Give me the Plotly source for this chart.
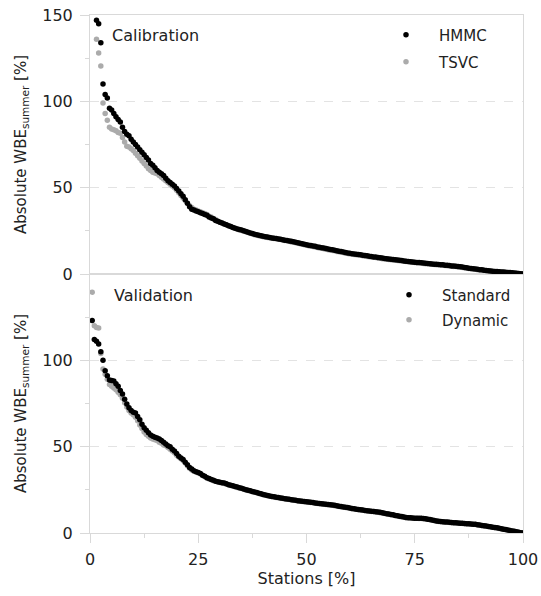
import plotly.graph_objects as go

# ---- data (absolute WBE summer, sorted descending; one value per station) ----
calib_hmmc = [
    165, 155, 147, 145, 134, 110, 104, 102, 96, 95,
    93, 91, 89.5, 88, 85, 82.5, 81, 80, 78, 76.5,
    75, 73.5, 72, 70.5, 69, 67.5, 66, 64, 63, 61.5,
    60, 59, 58, 57, 55.5, 54, 53, 52, 51, 49.5,
    48, 46.5, 45, 43, 41, 39, 37.5, 37, 36.5, 36,
    35.5, 35, 34.5, 34, 33, 32.5, 32, 31, 30.5, 30,
    29.5, 29, 28.5, 28, 27.5, 27, 26.5, 26, 25.8, 25.5,
    25, 24.6, 24.2, 23.8, 23.4, 23, 22.7, 22.4, 22.1, 21.8,
    21.6, 21.4, 21.1, 20.9, 20.7, 20.5, 20.3, 20.1, 19.9, 19.6,
    19.4, 19.1, 18.9, 18.7, 18.4, 18.1, 17.8, 17.5, 17.2, 17,
    16.7, 16.5, 16.2, 16, 15.7, 15.5, 15.2, 15, 14.7, 14.5,
    14.2, 14, 13.7, 13.5, 13.2, 13, 12.7, 12.5, 12.2, 12,
    11.8, 11.6, 11.5, 11.3, 11.1, 10.9, 10.7, 10.5, 10.3, 10.1,
    9.9, 9.8, 9.6, 9.4, 9.2, 9.0, 8.8, 8.7, 8.5, 8.4,
    8.2, 8.1, 7.9, 7.8, 7.6, 7.4, 7.3, 7.1, 7.0, 6.8,
    6.7, 6.6, 6.5, 6.3, 6.2, 6.1, 6.0, 5.8, 5.7, 5.6,
    5.5, 5.4, 5.3, 5.1, 5.0, 4.9, 4.7, 4.6, 4.5, 4.3,
    4.2, 4.0, 3.8, 3.6, 3.4, 3.2, 3.0, 2.9, 2.7, 2.5,
    2.4, 2.2, 2.0, 1.9, 1.8, 1.6, 1.5, 1.4, 1.3, 1.2,
    1.1, 1.0, 0.9, 0.8, 0.7, 0.6, 0.5, 0.3, 0.2, 0.0,
]
calib_tsvc = [
    160, 153, 136, 128, 120.5, 99, 93, 89, 85, 84,
    83.5, 83, 82, 81.5, 79, 76.5, 74, 73.5, 72.5, 71.5,
    70, 68.5, 67, 65.5, 64, 62.5, 61, 60, 59, 58.5,
    58, 57, 56, 55, 54, 53, 52, 51, 50, 48.5,
    47, 45.5, 44, 42.5, 41, 39.5, 38.5, 37.5, 37, 36.5,
    36, 35.5, 35, 34.5, 33.5, 33, 32, 31.5, 30.5, 30,
    29.5, 29, 28.5, 28, 27.5, 27, 26.5, 26, 25.5, 25.2,
    24.8, 24.4, 24, 23.6, 23.2, 22.8, 22.5, 22.2, 21.9, 21.6,
    21.4, 21.2, 21, 20.8, 20.6, 20.4, 20.2, 20, 19.7, 19.4,
    19.2, 18.9, 18.6, 18.4, 18.1, 17.8, 17.5, 17.2, 16.9, 16.6,
    16.4, 16.1, 15.9, 15.6, 15.4, 15.1, 14.9, 14.6, 14.4, 14.1,
    13.9, 13.6, 13.4, 13.1, 12.9, 12.6, 12.4, 12.1, 11.9, 11.7,
    11.5, 11.3, 11.2, 11, 10.8, 10.6, 10.4, 10.2, 10, 9.8,
    9.7, 9.5, 9.3, 9.1, 8.9, 8.8, 8.6, 8.4, 8.3, 8.1,
    8.0, 7.8, 7.7, 7.5, 7.4, 7.2, 7.1, 6.9, 6.8, 6.6,
    6.5, 6.4, 6.3, 6.1, 6.0, 5.9, 5.8, 5.6, 5.5, 5.4,
    5.3, 5.2, 5.1, 4.9, 4.8, 4.7, 4.5, 4.4, 4.3, 4.1,
    4.0, 3.8, 3.6, 3.4, 3.2, 3.0, 2.9, 2.7, 2.5, 2.4,
    2.2, 2.1, 1.9, 1.8, 1.7, 1.5, 1.4, 1.3, 1.2, 1.1,
    1.0, 0.9, 0.8, 0.7, 0.6, 0.5, 0.4, 0.3, 0.1, 0.0,
]
valid_standard = [
    123, 112, 111, 109.5, 105, 100, 94, 91, 88.6, 88.3,
    88, 86.5, 85, 82.5, 80.5, 77.5, 74.7, 72.5, 71, 70,
    69.5, 67.5, 65.6, 63, 61, 59.5, 58, 56.7, 56, 55.5,
    55, 54.5, 53.5, 52.5, 51.5, 50.5, 50, 48.5, 47.5, 46,
    44.5, 43.5, 42.5, 41, 39.5, 38, 37, 36, 35.5, 35,
    34.5, 33.5, 32.8, 32, 31.5, 31, 30.5, 30, 29.7, 29.4,
    29.1, 28.9, 28.5, 28, 27.6, 27.3, 26.9, 26.6, 26.2, 25.9,
    25.5, 25.1, 24.8, 24.4, 24.1, 23.7, 23.4, 23, 22.7, 22.3,
    22, 21.7, 21.5, 21.2, 21, 20.7, 20.5, 20.3, 20.1, 19.9,
    19.7, 19.5, 19.3, 19.1, 18.9, 18.7, 18.6, 18.4, 18.2, 18.1,
    17.9, 17.8, 17.6, 17.4, 17.3, 17.1, 16.9, 16.8, 16.7, 16.5,
    16.4, 16.2, 16, 15.8, 15.5, 15.3, 15.1, 14.9, 14.7, 14.5,
    14.2, 14, 13.8, 13.6, 13.4, 13.3, 13.1, 12.9, 12.8, 12.6,
    12.5, 12.3, 12.1, 12, 11.7, 11.5, 11.2, 11, 10.7, 10.5,
    10.2, 10, 9.7, 9.5, 9.2, 9, 8.9, 8.8, 8.7, 8.6,
    8.6, 8.5, 8.5, 8.4, 8.2, 8, 7.8, 7.5, 7.3, 7.0,
    6.8, 6.6, 6.5, 6.4, 6.3, 6.2, 6.1, 6, 5.9, 5.8,
    5.7, 5.6, 5.5, 5.4, 5.3, 5.2, 5.1, 5.0, 4.8, 4.6,
    4.4, 4.2, 4.0, 3.8, 3.6, 3.4, 3.2, 3.0, 2.7, 2.5,
    2.2, 2.0, 1.7, 1.5, 1.2, 1.0, 0.7, 0.5, 0.2, 0.0,
]
valid_dynamic = [
    139.5, 120, 119, 118.7, 104, 95, 92, 89, 86, 85,
    84, 83, 81.5, 80, 78, 75.5, 73, 71, 69.5, 68.5,
    67, 65, 62.5, 60.5, 58.5, 57, 56, 55, 54.5, 54,
    53.5, 52.5, 52, 51, 50.5, 49.5, 48.5, 47.5, 46.5, 45,
    44, 43, 42, 40.5, 39, 37.5, 36.5, 35.8, 35.3, 34.8,
    34.2, 33.3, 32.6, 31.9, 31.3, 30.8, 30.3, 29.9, 29.5, 29.2,
    28.9, 28.6, 28.3, 27.9, 27.5, 27.1, 26.8, 26.4, 26.1, 25.7,
    25.3, 25, 24.6, 24.3, 23.9, 23.6, 23.2, 22.9, 22.5, 22.2,
    21.9, 21.6, 21.3, 21.1, 20.8, 20.6, 20.4, 20.2, 20, 19.8,
    19.6, 19.4, 19.2, 19, 18.8, 18.6, 18.5, 18.3, 18.1, 17.9,
    17.8, 17.6, 17.5, 17.3, 17.1, 17, 16.8, 16.7, 16.5, 16.4,
    16.2, 16, 15.8, 15.6, 15.4, 15.2, 15, 14.8, 14.6, 14.3,
    14.1, 13.9, 13.7, 13.5, 13.3, 13.2, 13, 12.8, 12.7, 12.5,
    12.4, 12.2, 12, 11.8, 11.6, 11.3, 11.1, 10.8, 10.6, 10.3,
    10.1, 9.8, 9.6, 9.3, 9.1, 8.9, 8.8, 8.7, 8.6, 8.5,
    8.5, 8.4, 8.4, 8.3, 8.1, 7.9, 7.7, 7.4, 7.2, 6.9,
    6.7, 6.5, 6.4, 6.3, 6.2, 6.1, 6, 5.9, 5.8, 5.7,
    5.6, 5.5, 5.4, 5.3, 5.2, 5.1, 5, 4.9, 4.7, 4.5,
    4.3, 4.1, 3.9, 3.7, 3.5, 3.3, 3.1, 2.9, 2.6, 2.4,
    2.1, 1.9, 1.6, 1.4, 1.1, 0.9, 0.6, 0.4, 0.1, 0.0,
]

x_ticks = [0, 25, 50, 75, 100]
x_minor = [12.5, 37.5, 62.5, 87.5]
y_ticks = [0, 50, 100, 150]
y_minor = [25, 75, 125]


def station_pct(values):
    n = len(values)
    return [100.0 * (i + 1) / n for i in range(n)]


BLACK = "#000000"
GRAY = "#ababab"
FONT = "DejaVu Sans"
TXT = "#222222"
LINE = "#d9d9d9"
MS = 5.5

fig = go.Figure()
fig.add_trace(go.Scatter(x=station_pct(calib_tsvc), y=calib_tsvc, mode="markers",
                         name="TSVC", marker=dict(color=GRAY, size=MS),
                         xaxis="x2", yaxis="y2", legend="legend2"))
fig.add_trace(go.Scatter(x=station_pct(calib_hmmc), y=calib_hmmc, mode="markers",
                         name="HMMC", marker=dict(color=BLACK, size=MS),
                         xaxis="x2", yaxis="y2", legend="legend"))
fig.add_trace(go.Scatter(x=station_pct(valid_dynamic), y=valid_dynamic, mode="markers",
                         name="Dynamic", marker=dict(color=GRAY, size=MS),
                         xaxis="x", yaxis="y", legend="legend4"))
fig.add_trace(go.Scatter(x=station_pct(valid_standard), y=valid_standard, mode="markers",
                         name="Standard", marker=dict(color=BLACK, size=MS),
                         xaxis="x", yaxis="y", legend="legend3"))

# the page body margin is removed (see post_script), so the figure fills the window
OFF = 0
W, H = 541, 596
ML, MT = 90, 15
PW, PH = 433, 518
MR, MB = W - ML - PW, H - MT - PH


def px_x(p):
    return (p - OFF - ML) / PW


def px_y(p):
    return (MT + PH - (p - OFF)) / PH


yaxis_common = dict(
    range=[0, 150], tickmode="array", tickvals=y_ticks, automargin=False,
    showline=True, linecolor=LINE, linewidth=1, mirror=True,
    ticks="outside", ticklen=9, tickcolor=LINE, tickwidth=1,
    showgrid=True, gridcolor="#e3e3e3", griddash="dash", gridwidth=1,
    zeroline=False, fixedrange=True, ticklabeloverflow="allow",
    minor=dict(tickvals=y_minor, ticks="outside", ticklen=4, tickcolor=LINE, showgrid=False),
    tickfont=dict(family=FONT, size=16, color=TXT),
    ticklabelstandoff=4,
    title=dict(text="Absolute WBE<sub>summer</sub> [%]",
               font=dict(family=FONT, size=15, color=TXT), standoff=12),
)
xaxis_common = dict(
    range=[0, 100], showline=True, linecolor=LINE, linewidth=1, mirror=True,
    showgrid=False, zeroline=False, fixedrange=True, automargin=False,
    ticklabeloverflow="allow",
)

legend_common = dict(font=dict(family=FONT, size=15, color=TXT), bgcolor="rgba(0,0,0,0)",
                     borderwidth=0, itemsizing="trace", xanchor="left", yanchor="middle",
                     itemwidth=56, tracegroupgap=0)

fig.update_layout(
    width=W, height=H,
    margin=dict(l=ML, r=MR, t=MT, b=MB, autoexpand=False),
    paper_bgcolor="white", plot_bgcolor="white",
    showlegend=True,
    xaxis=dict(**xaxis_common, anchor="y", domain=[0, 1],
               tickmode="array", tickvals=x_ticks,
               ticks="outside", ticklen=9, tickcolor=LINE,
               minor=dict(tickvals=x_minor, ticks="outside", ticklen=4, tickcolor=LINE),
               tickfont=dict(family=FONT, size=16, color=TXT), ticklabelstandoff=3,
               title=dict(text="Stations [%]", font=dict(family=FONT, size=16, color=TXT), standoff=0)),
    xaxis2=dict(**xaxis_common, anchor="y2", domain=[0, 1], matches="x",
                showticklabels=False, ticks=""),
    yaxis=dict(**yaxis_common, anchor="x", domain=[0, 0.5],
               ticktext=["0", "50", "100", ""]),
    yaxis2=dict(**yaxis_common, anchor="x2", domain=[0.5, 1],
                ticktext=["0", "50", "100", "150"]),
    legend=dict(**legend_common, x=px_x(407 - 34), y=px_y(35)),
    legend2=dict(**legend_common, x=px_x(407 - 34), y=px_y(62)),
    legend3=dict(**legend_common, x=px_x(410 - 34), y=px_y(295)),
    legend4=dict(**legend_common, x=px_x(410 - 34), y=px_y(320)),
    annotations=[
        dict(text="Calibration", xref="paper", yref="paper", x=px_x(110), y=px_y(35),
             xanchor="left", yanchor="middle", showarrow=False,
             font=dict(family=FONT, size=16, color=TXT)),
        dict(text="Validation", xref="paper", yref="paper", x=px_x(112), y=px_y(295),
             xanchor="left", yanchor="middle", showarrow=False,
             font=dict(family=FONT, size=16, color=TXT)),
    ],
)

fig.write_html("out.html",
               config={"displayModeBar": False, "staticPlot": True},
               post_script="document.body.style.margin='0px';"
                           "document.body.style.overflow='hidden';")
